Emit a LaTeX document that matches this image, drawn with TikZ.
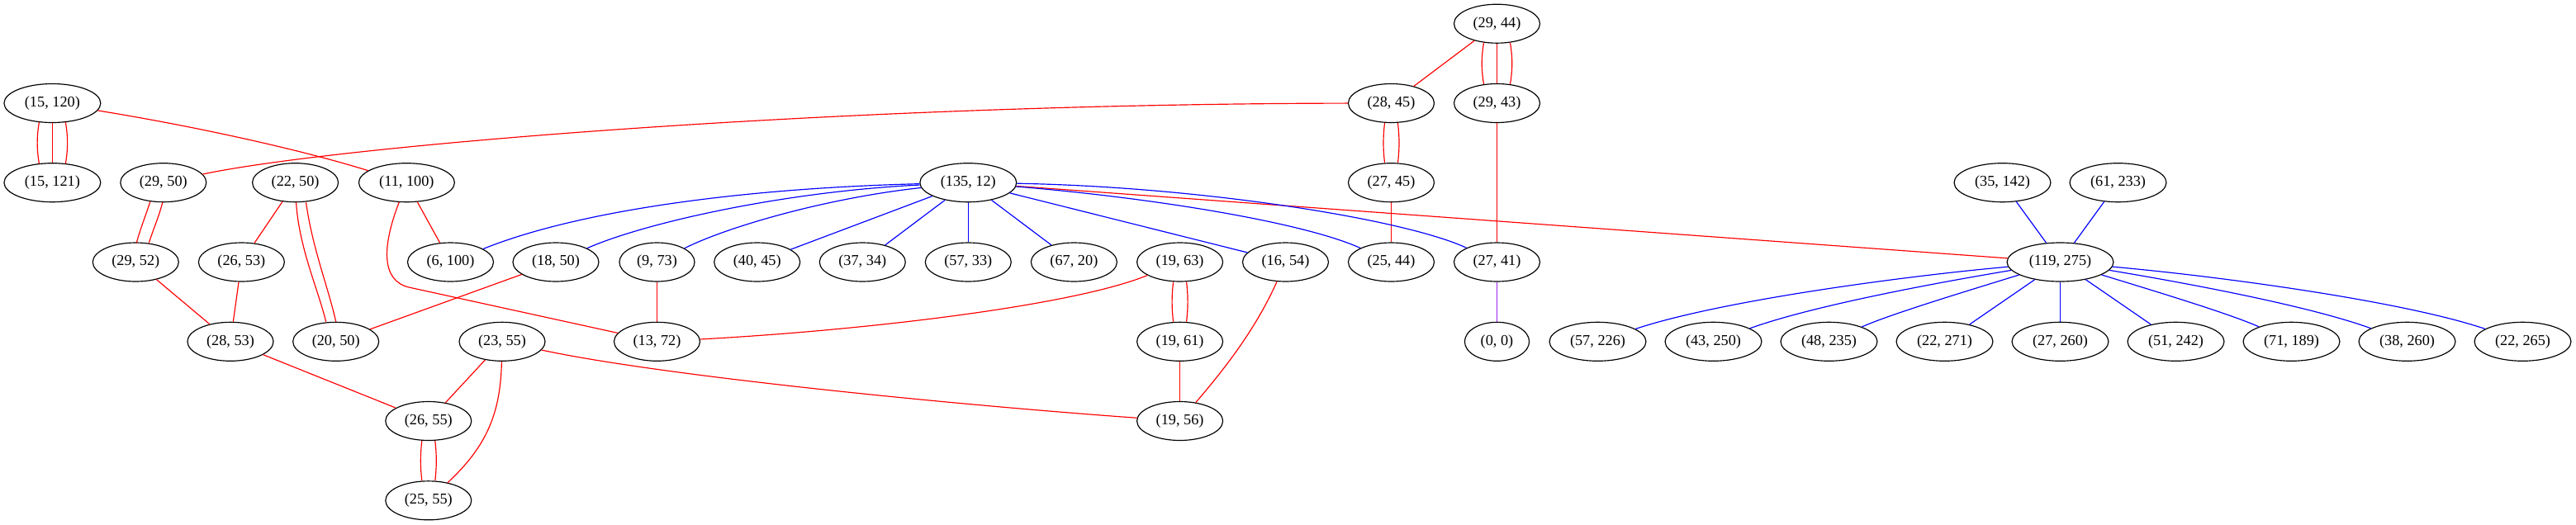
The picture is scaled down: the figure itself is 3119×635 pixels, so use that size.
\documentclass[tikz,border=0pt]{standalone}
\usepackage{fontspec}
\setmainfont{Liberation Serif}
\usetikzlibrary{shapes.geometric,calc}
\definecolor{gvpurple}{HTML}{A020F0}
\begin{document}
\begin{tikzpicture}[x=0.766pt,y=-0.766pt,
  gv/.style={ellipse,draw,line width=0.9pt,inner xsep=6pt,inner ysep=0pt,
    minimum height=36pt,minimum width=54pt,font=\fontsize{14}{16}\selectfont},
  re/.style={red,line width=0.9pt},
  be/.style={blue,line width=0.9pt},
  pe/.style={gvpurple,line width=0.9pt}]
\useasboundingbox (0,0) rectangle (3119,635);
% row 0
\node[gv] (n29x44) at (1812.5,28.7) {(29, 44)};
% row 1
\node[gv] (n15x120) at (63.4,125) {(15, 120)};
\node[gv] (n28x45) at (1684.5,125) {(28, 45)};
\node[gv] (n29x43) at (1812.5,125) {(29, 43)};
% row 2
\node[gv] (n15x121) at (63.4,221.2) {(15, 121)};
\node[gv] (n29x50) at (197.8,221.2) {(29, 50)};
\node[gv] (n22x50) at (357.6,221.2) {(22, 50)};
\node[gv] (n11x100) at (492.4,221.2) {(11, 100)};
\node[gv] (n135x12) at (1172.3,221.2) {(135, 12)};
\node[gv] (n27x45) at (1684.5,221.2) {(27, 45)};
\node[gv] (n35x142) at (2424.5,221.2) {(35, 142)};
\node[gv] (n61x233) at (2564.5,221.2) {(61, 233)};
% row 3
\node[gv] (n29x52) at (164.3,317.5) {(29, 52)};
\node[gv] (n26x53) at (292.4,317.5) {(26, 53)};
\node[gv] (n6x100) at (545.5,317.5) {(6, 100)};
\node[gv] (n18x50) at (673,317.5) {(18, 50)};
\node[gv] (n9x73) at (795.5,317.5) {(9, 73)};
\node[gv] (n40x45) at (916.7,317.5) {(40, 45)};
\node[gv] (n37x34) at (1044.3,317.5) {(37, 34)};
\node[gv] (n57x33) at (1172.3,317.5) {(57, 33)};
\node[gv] (n67x20) at (1300.4,317.5) {(67, 20)};
\node[gv] (n19x63) at (1428.6,317.5) {(19, 63)};
\node[gv] (n16x54) at (1556.5,317.5) {(16, 54)};
\node[gv] (n25x44) at (1684.5,317.5) {(25, 44)};
\node[gv] (n27x41) at (1812.5,317.5) {(27, 41)};
\node[gv] (n119x275) at (2494.5,317.5) {(119, 275)};
% row 4
\node[gv] (n28x53) at (279,413.8) {(28, 53)};
\node[gv] (n20x50) at (406.7,413.8) {(20, 50)};
\node[gv] (n23x55) at (608,413.8) {(23, 55)};
\node[gv] (n13x72) at (795.5,413.8) {(13, 72)};
\node[gv] (n19x61) at (1428.6,413.8) {(19, 61)};
\node[gv] (n0x0) at (1812.5,413.8) {(0, 0)};
\node[gv] (n57x226) at (1934.5,413.8) {(57, 226)};
\node[gv] (n43x250) at (2074.5,413.8) {(43, 250)};
\node[gv] (n48x235) at (2214.5,413.8) {(48, 235)};
\node[gv] (n22x271) at (2354.5,413.8) {(22, 271)};
\node[gv] (n27x260) at (2494.5,413.8) {(27, 260)};
\node[gv] (n51x242) at (2634.5,413.8) {(51, 242)};
\node[gv] (n71x189) at (2774.5,413.8) {(71, 189)};
\node[gv] (n38x260) at (2914.5,413.8) {(38, 260)};
\node[gv] (n22x265) at (3054.5,413.8) {(22, 265)};
% row 5
\node[gv] (n26x55) at (518.8,510) {(26, 55)};
\node[gv] (n19x56) at (1428.6,510) {(19, 56)};
% row 6
\node[gv] (n25x55) at (518.8,606.3) {(25, 55)};

% ---- red edges ----
% triple (15,120)-(15,121)
\draw[re] (n15x120) -- (n15x121);
\draw[re] ($(n15x120.south)+(-16,-1)$) .. controls +(-3,18) and +(-3,-18) .. ($(n15x121.north)+(-16,1)$);
\draw[re] ($(n15x120.south)+(16,-1)$) .. controls +(3,18) and +(3,-18) .. ($(n15x121.north)+(16,1)$);
% triple (29,44)-(29,43)
\draw[re] (n29x44) -- (n29x43);
\draw[re] ($(n29x44.south)+(-16,-1)$) .. controls +(-3,18) and +(-3,-18) .. ($(n29x43.north)+(-16,1)$);
\draw[re] ($(n29x44.south)+(16,-1)$) .. controls +(3,18) and +(3,-18) .. ($(n29x43.north)+(16,1)$);
% doubles
\draw[re] ($(n28x45.south)+(-8,0)$) .. controls +(-2,18) and +(-2,-18) .. ($(n27x45.north)+(-8,0)$);
\draw[re] ($(n28x45.south)+(8,0)$) .. controls +(2,18) and +(2,-18) .. ($(n27x45.north)+(8,0)$);
\draw[re] ($(n19x63.south)+(-8,0)$) .. controls +(-2,18) and +(-2,-18) .. ($(n19x61.north)+(-8,0)$);
\draw[re] ($(n19x63.south)+(8,0)$) .. controls +(2,18) and +(2,-18) .. ($(n19x61.north)+(8,0)$);
\draw[re] ($(n26x55.south)+(-8,0)$) .. controls +(-2,18) and +(-2,-18) .. ($(n25x55.north)+(-8,0)$);
\draw[re] ($(n26x55.south)+(8,0)$) .. controls +(2,18) and +(2,-18) .. ($(n25x55.north)+(8,0)$);
\draw[re] ($(n29x50.south)+(-16,-1)$) .. controls +(-5,16) and +(4,-16) .. ($(n29x52.north)+(1,1)$);
\draw[re] ($(n29x50.south)+(-1,0)$) .. controls +(-4,16) and +(5,-16) .. ($(n29x52.north)+(16,1)$);
\draw[re] ($(n22x50.south)+(1,0)$) .. controls (362,300) and (385,350) .. ($(n20x50.north)+(-12,0)$);
\draw[re] ($(n22x50.south)+(13,0)$) .. controls (378,300) and (398,350) .. ($(n20x50.north)+(0,0)$);
% single red
\draw[re] (n15x120) .. controls (230,152) and (360,180) .. (n11x100);
\draw[re] (n28x45) .. controls (1000,126) and (400,178) .. (n29x50);
\draw[re] (n29x44) -- (n28x45);
\draw[re] (n29x43) -- (n27x41);
\draw[re] (n27x45) -- (n25x44);
\draw[re] (n22x50) -- (n26x53);
\draw[re] (n11x100) -- (n6x100);
\draw[re] (n11x100) .. controls (462,300) and (462,340) .. (495,348) -- (n13x72);
\draw[re] (n18x50) -- (n20x50);
\draw[re] (n9x73) -- (n13x72);
\draw[re] (n29x52) -- (n28x53);
\draw[re] (n26x53) -- (n28x53);
\draw[re] (n28x53) -- (n26x55);
\draw[re] (n23x55) -- (n26x55);
\draw[re] (n23x55) .. controls (606,500) and (590,540) .. (n25x55);
\draw[re] (n23x55) .. controls (800,455) and (1150,490) .. (n19x56);
\draw[re] (n19x63) .. controls (1300,370) and (1050,400) .. (n13x72);
\draw[re] (n19x61) -- (n19x56);
\draw[re] (n16x54) .. controls (1520,400) and (1480,450) .. (n19x56);
\draw[re] (n135x12) -- (n119x275);

% ---- blue edges from (135,12) ----
\draw[be] (n135x12) .. controls (900,228) and (700,255) .. (n6x100);
\draw[be] (n135x12) .. controls (950,232) and (780,270) .. (n18x50);
\draw[be] (n135x12) .. controls (1000,240) and (880,275) .. (n9x73);
\draw[be] (n135x12) -- (n40x45);
\draw[be] (n135x12) -- (n37x34);
\draw[be] (n135x12) -- (n57x33);
\draw[be] (n135x12) -- (n67x20);
\draw[be] (n135x12) -- (n16x54);
\draw[be] (n135x12) .. controls (1400,240) and (1580,270) .. (n25x44);
\draw[be] (n135x12) .. controls (1450,226) and (1700,265) .. (n27x41);
% purple
\draw[pe] (n27x41) -- (n0x0);

% ---- blue edges of (119,275) ----
\draw[be] (n35x142) -- (n119x275);
\draw[be] (n61x233) -- (n119x275);
\draw[be] (n119x275) .. controls (2300,335) and (2080,365) .. (n57x226);
\draw[be] (n119x275) .. controls (2330,345) and (2190,372) .. (n43x250);
\draw[be] (n119x275) .. controls (2390,350) and (2290,380) .. (n48x235);
\draw[be] (n119x275) -- (n22x271);
\draw[be] (n119x275) -- (n27x260);
\draw[be] (n119x275) -- (n51x242);
\draw[be] (n119x275) .. controls (2600,350) and (2700,380) .. (n71x189);
\draw[be] (n119x275) .. controls (2660,345) and (2800,372) .. (n38x260);
\draw[be] (n119x275) .. controls (2690,335) and (2910,365) .. (n22x265);
\end{tikzpicture}
\end{document}
